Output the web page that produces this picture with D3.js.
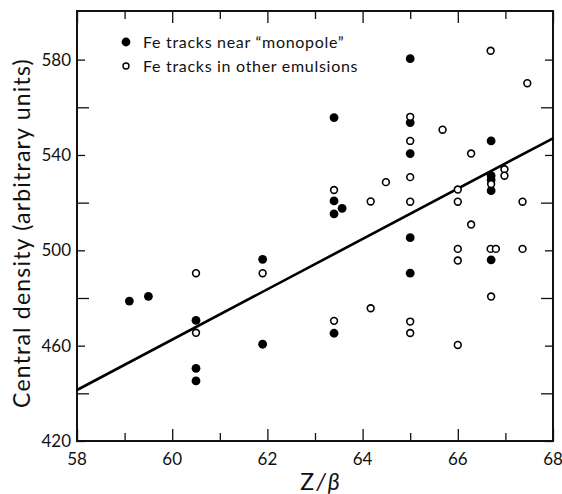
<!DOCTYPE html>
<html>
<head>
<meta charset="utf-8">
<script src="https://cdn.jsdelivr.net/npm/d3@7"></script>
<style>
  body { margin: 0; background: #fff; }
  svg { font-family: Lato, "Open Sans", sans-serif; }
</style>
</head>
<body>
<svg width="562" height="494"></svg>
<script>
// Fe tracks near "monopole" (filled) : [Z/beta, density]
const nearX = [59.1, 59.5, 60.5, 60.5, 60.5, 61.9, 61.9, 63.4, 63.4, 63.57, 63.4, 63.4,
               65, 65, 65, 65, 65, 66.7, 66.7, 66.7, 66.7, 66.7];
const nearY = [478.7, 480.7, 470.6, 450.5, 445.2, 496.2, 460.6, 555.7, 520.7, 517.6, 515.3, 465.2,
               580.4, 553.6, 540.6, 505.3, 490.4, 545.9, 531.3, 529.6, 525.0, 496.0];
// Fe tracks in other emulsions (open)
const otherX = [60.5, 60.5, 61.9, 63.4, 63.4, 64.17, 64.17, 64.49, 65, 65, 65, 65, 65, 65, 65.68,
                66, 66, 66, 66, 66, 66.28, 66.28, 66.69, 66.7, 66.69, 66.8, 66.7,
                66.98, 66.98, 67.36, 67.36, 67.46];
const otherY = [490.4, 465.4, 490.4, 525.3, 470.4, 520.5, 475.7, 528.6, 556.0, 545.9, 530.7, 520.4, 470.1, 465.3, 550.6,
                525.5, 520.4, 500.6, 495.7, 460.3, 540.6, 510.8, 583.7, 527.8, 500.6, 500.6, 480.6,
                534.0, 531.3, 520.4, 500.6, 570.1];
// fitted line end points
const fitX = [58, 68];
const fitY = [441.4, 547.0];

const xTicks = [58, 60, 62, 64, 66, 68];
const yTicks = [420, 460, 500, 540, 580];
const legendLabels = ["Fe tracks near \u201cmonopole\u201d", "Fe tracks in other emulsions"];

const margin = {top: 11, right: 9, bottom: 53, left: 77};
const W = 562, H = 494;
const w = W - margin.left - margin.right;
const h = H - margin.top - margin.bottom;

const svg = d3.select("svg");
const g = svg.append("g").attr("transform", `translate(${margin.left},${margin.top})`);

const x = d3.scaleLinear().domain([58, 68]).range([0, w]);
const y = d3.scaleLinear().domain([420, 600.4]).range([h, 0]);

const minorX = d3.range(58, 68.01, 1);
const minorY = d3.range(420, 600, 20);

// inward ticks on all four sides
const axBottom = g.append("g").attr("transform", `translate(0,${h})`)
  .call(d3.axisBottom(x).tickValues(minorX).tickSize(-8).tickFormat(""));
const axTop = g.append("g")
  .call(d3.axisTop(x).tickValues(minorX).tickSize(-8).tickFormat(""));
const axLeft = g.append("g")
  .call(d3.axisLeft(y).tickValues(minorY).tickSize(-8).tickFormat(""));
const axRight = g.append("g").attr("transform", `translate(${w},0)`)
  .call(d3.axisRight(y).tickValues(minorY).tickSize(-8).tickFormat(""));

[axBottom, axTop].forEach(a => a.selectAll(".tick line")
  .attr("y2", d => (d % 2 === 0 ? 12 : 8) * (a === axBottom ? -1 : 1)));
[axLeft, axRight].forEach(a => a.selectAll(".tick line")
  .attr("x2", d => (d % 40 === 20 ? 8 : 12) * (a === axLeft ? 1 : -1)));

[axBottom, axTop, axLeft, axRight].forEach(a => {
  a.select(".domain").remove();
  a.selectAll(".tick line").attr("stroke", "#111").attr("stroke-width", 1.3);
});

// frame
g.append("rect").attr("width", w).attr("height", h)
  .attr("fill", "none").attr("stroke", "#111").attr("stroke-width", 2);

// tick labels
g.selectAll(".xl").data(xTicks).enter().append("text")
  .attr("x", d => x(d)).attr("y", h + 24)
  .attr("text-anchor", "middle").attr("font-size", 17).attr("fill", "#111")
  .text(d => d);
g.selectAll(".yl").data(yTicks).enter().append("text")
  .attr("x", -6).attr("y", d => y(d)).attr("dy", "0.35em")
  .attr("text-anchor", "end").attr("font-size", 17).attr("fill", "#111")
  .text(d => d);

// axis titles
svg.append("text")
  .attr("transform", "translate(30,233) rotate(-90)")
  .attr("text-anchor", "middle").attr("font-size", 23).attr("letter-spacing", 1.2)
  .attr("fill", "#111")
  .text("Central density (arbitrary units)");
svg.append("text")
  .attr("x", 321).attr("y", 490)
  .attr("text-anchor", "middle").attr("font-size", 23).attr("letter-spacing", 2)
  .attr("fill", "#111")
  .html("Z<tspan font-style='italic'>/\u03b2</tspan>");

// fit line
g.append("line")
  .attr("x1", x(fitX[0])).attr("y1", y(fitY[0]))
  .attr("x2", x(fitX[1])).attr("y2", y(fitY[1]))
  .attr("stroke", "#000").attr("stroke-width", 2.6);

// points
g.selectAll(".near").data(nearX).enter().append("circle")
  .attr("cx", d => x(d)).attr("cy", (d, i) => y(nearY[i]))
  .attr("r", 4.4).attr("fill", "#000");
g.selectAll(".other").data(otherX).enter().append("circle")
  .attr("cx", d => x(d)).attr("cy", (d, i) => y(otherY[i]))
  .attr("r", 3.4).attr("fill", "#fff").attr("stroke", "#000").attr("stroke-width", 1.6);

// legend
const leg = svg.append("g");
leg.append("circle").attr("cx", 126).attr("cy", 42).attr("r", 4.4).attr("fill", "#000");
leg.append("circle").attr("cx", 126).attr("cy", 66).attr("r", 3).attr("fill", "#fff")
  .attr("stroke", "#000").attr("stroke-width", 1.4);
leg.selectAll("text").data(legendLabels).enter().append("text")
  .attr("x", 143).attr("y", (d, i) => 42 + i * 24).attr("dy", "0.35em")
  .attr("font-size", 16).attr("letter-spacing", 0.7).attr("fill", "#111")
  .text(d => d);
</script>
</body>
</html>
